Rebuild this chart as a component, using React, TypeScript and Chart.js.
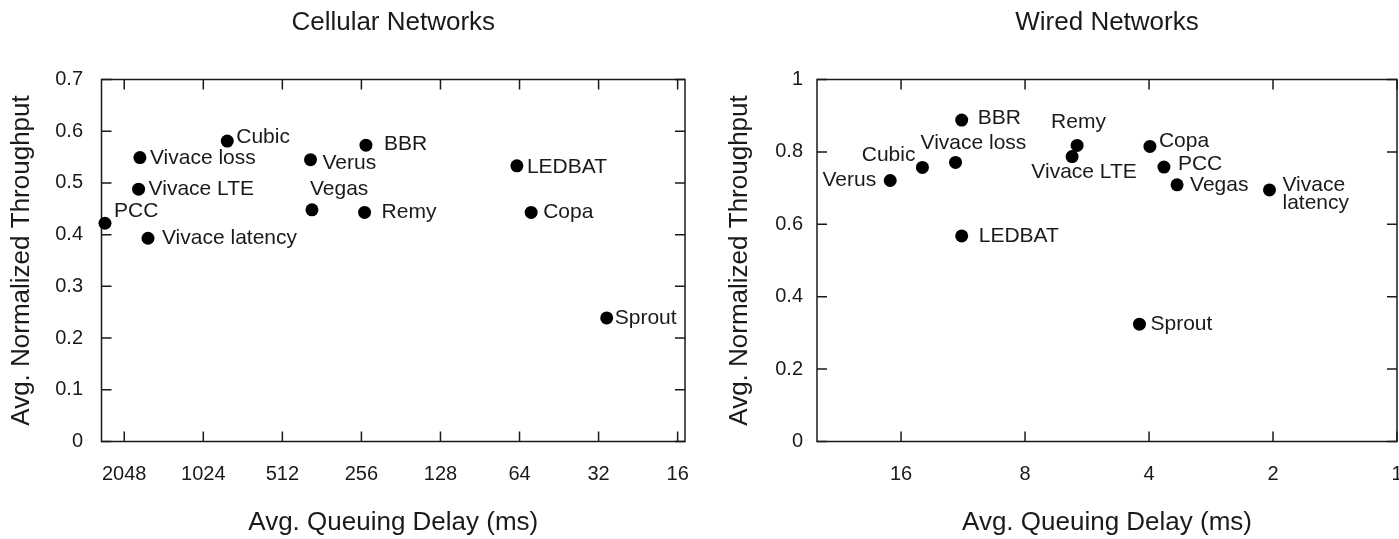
import React, { useEffect, useRef } from 'react';
import { Chart, registerables } from 'chart.js';

Chart.register(...registerables);

// ---------- data ----------
const cellularNames = ['PCC', 'Vivace loss', 'Vivace LTE', 'Vivace latency', 'Cubic', 'Verus', 'Vegas', 'BBR', 'Remy', 'LEDBAT', 'Copa', 'Sprout'];
const cellularDelay = [2425, 1785, 1806, 1663, 830, 400, 395, 246, 249, 65.5, 57.8, 29.8];
const cellularThroughput = [0.422, 0.549, 0.488, 0.393, 0.581, 0.545, 0.448, 0.573, 0.443, 0.533, 0.443, 0.239];
const cellularXTicks = [16, 32, 64, 128, 256, 512, 1024, 2048];
const cellularYTicks = [0, 0.1, 0.2, 0.3, 0.4, 0.5, 0.6, 0.7];

const wiredNames = ['Verus', 'Cubic', 'Vivace loss', 'BBR', 'LEDBAT', 'Remy', 'Vivace LTE', 'Copa', 'PCC', 'Vegas', 'Vivace latency', 'Sprout'];
const wiredDelay = [17.0, 14.2, 11.8, 11.4, 11.4, 5.98, 6.15, 3.98, 3.68, 3.42, 2.04, 4.22];
const wiredThroughput = [0.721, 0.757, 0.771, 0.888, 0.568, 0.818, 0.787, 0.815, 0.758, 0.709, 0.695, 0.324];
const wiredXTicks = [1, 2, 4, 8, 16];
const wiredYTicks = [0, 0.2, 0.4, 0.6, 0.8, 1];

// ---------- label placement (styling only) ----------
type Place = { dx: number; dy: number; align?: CanvasTextAlign; multiline?: boolean; gap?: number };
const cellularPlace: Place[] = [
  { dx: 9, dy: -12 },
  { dx: 10, dy: 1 },
  { dx: 10, dy: 0 },
  { dx: 14, dy: 0 },
  { dx: 9, dy: -4 },
  { dx: 12, dy: 4 },
  { dx: -2, dy: -21 },
  { dx: 18, dy: -1 },
  { dx: 17, dy: 0 },
  { dx: 10, dy: 1 },
  { dx: 12, dy: 0 },
  { dx: 8, dy: 0 },
];
const wiredPlace: Place[] = [
  { dx: -14, dy: 0, align: 'right' },
  { dx: -7, dy: -12, align: 'right' },
  { dx: -35, dy: -19 },
  { dx: 16, dy: -2 },
  { dx: 17, dy: 0 },
  { dx: -26, dy: -23 },
  { dx: 12, dy: 16, align: 'center' },
  { dx: 9, dy: -5 },
  { dx: 14, dy: -3 },
  { dx: 13, dy: 0 },
  { dx: 13, dy: -5, multiline: true, gap: 18 },
  { dx: 11, dy: 0 },
];

const FONT = '"Liberation Sans", Arial, Helvetica, sans-serif';
const INK = '#1a1a1a';

function fmtY(v: number) {
  if (v === 0) return '0';
  if (Math.abs(v - Math.round(v)) < 1e-9) return String(Math.round(v));
  return v.toFixed(1);
}

function gnuplotPlugin(names: string[], place: Place[]) {
  return {
    id: 'gnuFrame',
    beforeDatasetsDraw(chart: any) {
      const { ctx, chartArea: a, scales } = chart;
      ctx.save();
      ctx.strokeStyle = INK;
      ctx.lineWidth = 1.5;
      ctx.strokeRect(a.left, a.top, a.right - a.left, a.bottom - a.top);
      const L = 10;
      ctx.beginPath();
      for (const t of scales.x.ticks) {
        const px = scales.x.getPixelForValue(t.value);
        ctx.moveTo(px, a.bottom);
        ctx.lineTo(px, a.bottom - L);
        ctx.moveTo(px, a.top);
        ctx.lineTo(px, a.top + L);
      }
      for (const t of scales.y.ticks) {
        const py = scales.y.getPixelForValue(t.value);
        ctx.moveTo(a.left, py);
        ctx.lineTo(a.left + L, py);
        ctx.moveTo(a.right, py);
        ctx.lineTo(a.right - L, py);
      }
      ctx.stroke();
      ctx.restore();
    },
    afterDatasetsDraw(chart: any) {
      const { ctx } = chart;
      const meta = chart.getDatasetMeta(0);
      ctx.save();
      ctx.fillStyle = INK;
      ctx.font = `21px ${FONT}`;
      ctx.textBaseline = 'middle';
      meta.data.forEach((el: any, i: number) => {
        const p = place[i];
        ctx.textAlign = p.align || 'left';
        const lines = p.multiline ? names[i].split(' ') : [names[i]];
        lines.forEach((ln, j) => {
          ctx.fillText(ln, el.x + p.dx, el.y + p.dy + j * (p.gap || 0));
        });
      });
      ctx.restore();
    },
  };
}

type Spec = {
  title: string;
  names: string[];
  xs: number[];
  ys: number[];
  xTicks: number[];
  yTicks: number[];
  xMin: number;
  xMax: number;
  yMax: number;
  place: Place[];
  yAxisWidth: number;
  xAxisHeight: number;
  padRight: number;
  yTitlePad: number;
  yTickPad: number;
};

function buildConfig(s: Spec): any {
  return {
    type: 'scatter',
    data: {
      datasets: [
        {
          data: s.xs.map((x, i) => ({ x, y: s.ys[i] })),
          pointRadius: 6.5,
          pointHoverRadius: 6.5,
          backgroundColor: '#000',
          borderColor: '#000',
          borderWidth: 0,
          clip: false,
        },
      ],
    },
    options: {
      animation: false,
      responsive: false,
      maintainAspectRatio: false,
      devicePixelRatio: 1,
      events: [],
      layout: { padding: { left: 0, right: s.padRight, top: 0, bottom: 0 } },
      plugins: {
        legend: { display: false },
        tooltip: { enabled: false },
        title: {
          display: true,
          text: s.title,
          fullSize: false,
          color: INK,
          font: { family: FONT, size: 26, weight: 'normal' },
          padding: { top: 6.9, bottom: 41.4 },
        },
      },
      scales: {
        x: {
          type: 'logarithmic',
          reverse: true,
          min: s.xMin,
          max: s.xMax,
          bounds: 'data',
          grid: { display: false, drawTicks: false },
          border: { display: false },
          afterBuildTicks: (sc: any) => {
            sc.ticks = s.xTicks.map((v) => ({ value: v }));
          },
          afterFit: (sc: any) => {
            sc.height = s.xAxisHeight;
          },
          ticks: {
            autoSkip: false,
            maxRotation: 0,
            minRotation: 0,
            padding: 20.5,
            color: INK,
            font: { family: FONT, size: 20 },
            callback: (v: any) => String(v),
          },
          title: {
            display: true,
            text: 'Avg. Queuing Delay (ms)',
            color: INK,
            font: { family: FONT, size: 26 },
            padding: { top: 0, bottom: 0.4 },
          },
        },
        y: {
          type: 'linear',
          min: 0,
          max: s.yMax,
          grid: { display: false, drawTicks: false },
          border: { display: false },
          afterBuildTicks: (sc: any) => {
            sc.ticks = s.yTicks.map((v) => ({ value: v }));
          },
          afterFit: (sc: any) => {
            sc.width = s.yAxisWidth;
          },
          ticks: {
            autoSkip: false,
            padding: s.yTickPad,
            color: INK,
            font: { family: FONT, size: 20 },
            callback: (v: any) => fmtY(Number(v)),
          },
          title: {
            display: true,
            text: 'Avg. Normalized Throughput',
            color: INK,
            font: { family: FONT, size: 26 },
            padding: { top: s.yTitlePad, bottom: 0 },
          },
        },
      },
    },
    plugins: [gnuplotPlugin(s.names, s.place)],
  };
}

export default function App() {
  const leftRef = useRef<HTMLCanvasElement>(null);
  const rightRef = useRef<HTMLCanvasElement>(null);

  useEffect(() => {
    const c1 = new Chart(
      leftRef.current as HTMLCanvasElement,
      buildConfig({
        title: 'Cellular Networks',
        names: cellularNames,
        xs: cellularDelay,
        ys: cellularThroughput,
        xTicks: cellularXTicks,
        yTicks: cellularYTicks,
        xMin: 15,
        xMax: 2500,
        yMax: 0.7,
        place: cellularPlace,
        yAxisWidth: 101.5,
        xAxisHeight: 97.5,
        padRight: 15,
        yTitlePad: 6.4,
        yTickPad: 18.5,
      })
    );
    const c2 = new Chart(
      rightRef.current as HTMLCanvasElement,
      buildConfig({
        title: 'Wired Networks',
        names: wiredNames,
        xs: wiredDelay,
        ys: wiredThroughput,
        xTicks: wiredXTicks,
        yTicks: wiredYTicks,
        xMin: 1,
        xMax: 25.6,
        yMax: 1,
        place: wiredPlace,
        yAxisWidth: 117,
        xAxisHeight: 97.5,
        padRight: 23,
        yTitlePad: 24.4,
        yTickPad: 14,
      })
    );
    return () => {
      c1.destroy();
      c2.destroy();
    };
  }, []);

  return (
    <div
      style={{
        position: 'absolute',
        left: 0,
        top: 0,
        width: 1399,
        height: 539,
        overflow: 'hidden',
        background: '#fff',
      }}
    >
      <canvas ref={leftRef} width={700} height={539} style={{ position: 'absolute', left: 0, top: 0, width: 700, height: 539 }} />
      <canvas ref={rightRef} width={720} height={539} style={{ position: 'absolute', left: 700, top: 0, width: 720, height: 539 }} />
    </div>
  );
}
